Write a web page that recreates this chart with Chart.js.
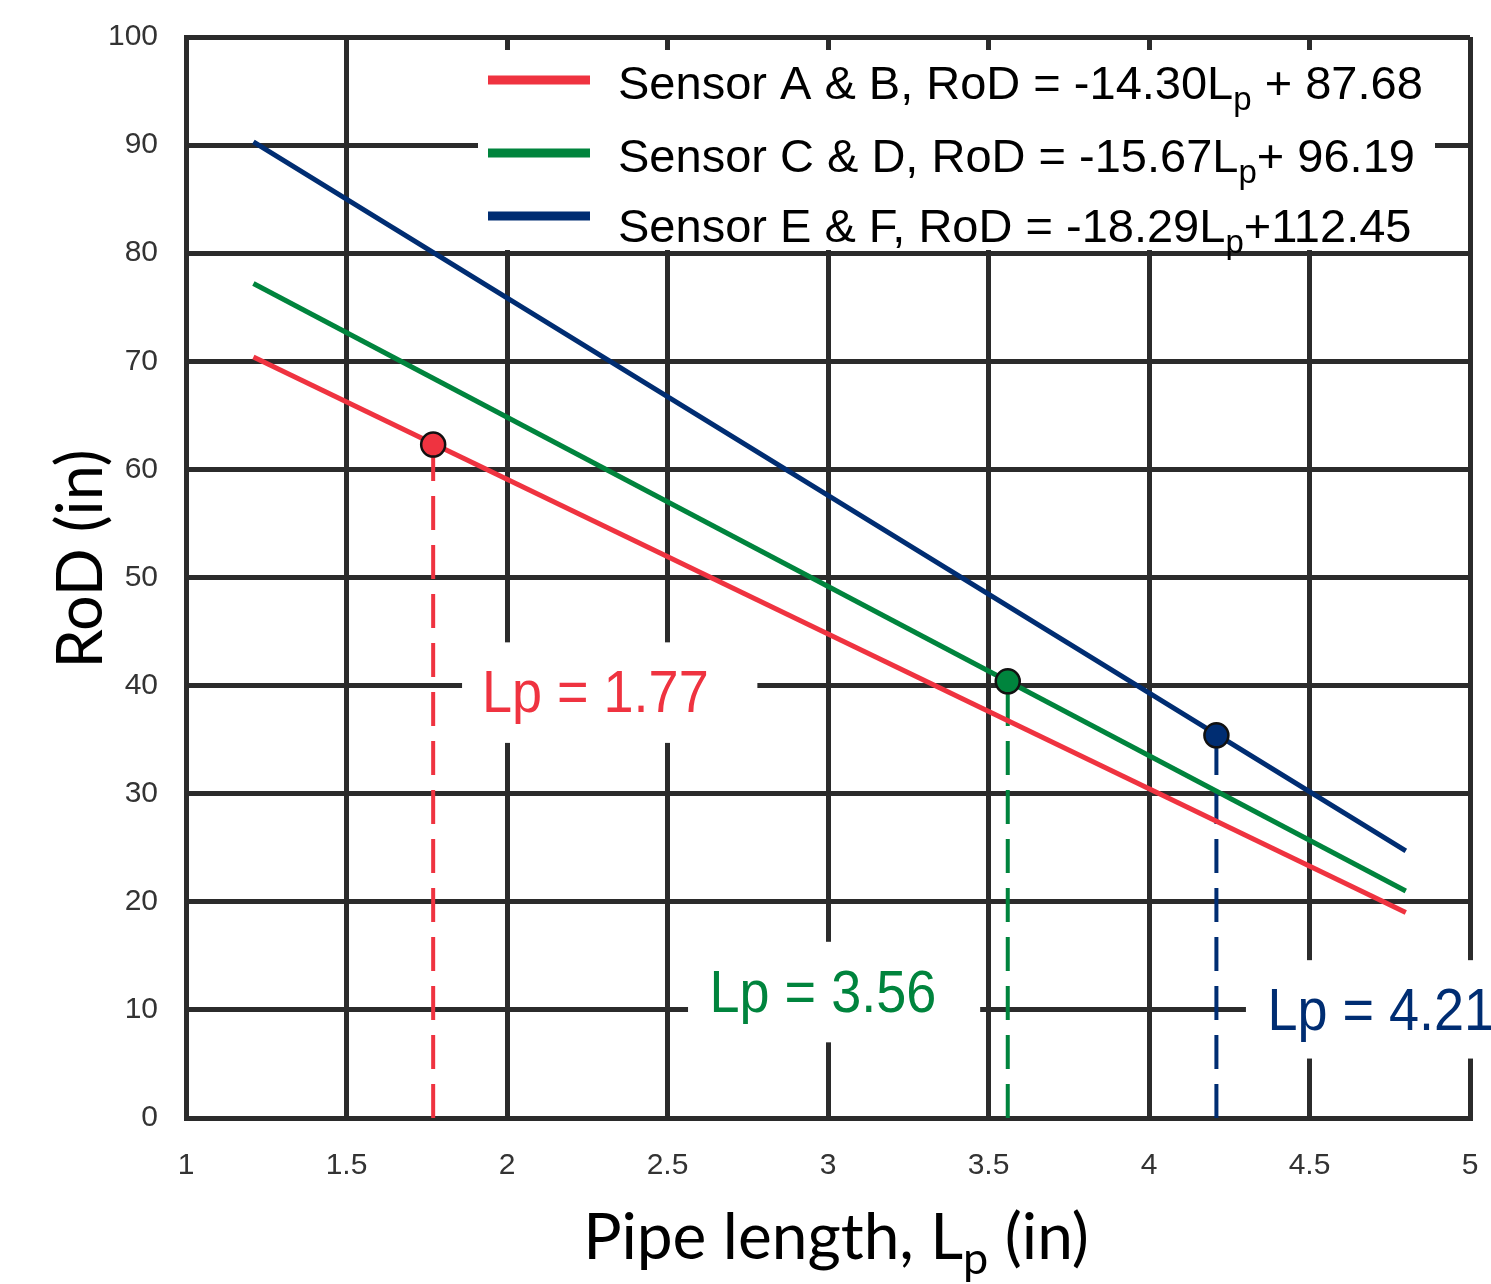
<!DOCTYPE html>
<html>
<head>
<meta charset="utf-8">
<script src="https://cdn.jsdelivr.net/npm/chart.js@4.4.0/dist/chart.umd.min.js"></script>
<style>
  html, body { margin: 0; padding: 0; background: #fff; }
  #wrap { width: 1491px; height: 1284px; }
</style>
</head>
<body>
<div id="wrap"><canvas id="rodChart"></canvas></div>
<script>
// fitted lines: end points
const lineX = [1.21, 4.8];
const sensorAB = [70.4, 19.0];
const sensorCD = [77.2, 21.0];
const sensorEF = [90.3, 24.7];

// marked pipe lengths and RoD at those points
const markLp = [1.77, 3.56, 4.21];
const markRoD = [62.3, 40.4, 35.4];

const xTicks = [1, 1.5, 2, 2.5, 3, 3.5, 4, 4.5, 5];
const xTickLabels = ['1', '1.5', '2', '2.5', '3', '3.5', '4', '4.5', '5'];
const yTicks = [0, 10, 20, 30, 40, 50, 60, 70, 80, 90, 100];

const seriesNames = ['Sensor A & B', 'Sensor C & D', 'Sensor E & F'];
const legendText = [
  ['Sensor A & B, RoD = -14.30L', 'p', ' + 87.68'],
  ['Sensor C & D, RoD = -15.67L', 'p', '+ 96.19'],
  ['Sensor E & F, RoD = -18.29L', 'p', '+112.45']
];
const markLabels = ['Lp = 1.77', 'Lp = 3.56', 'Lp = 4.21'];

const colors = ['#ef3340', '#00843d', '#002d72'];
const gridColor = '#2b2b2b';

// where the mark labels sit (value coords) and the white boxes behind them
const labelSpots = [
  { tx: 1.922, ty: 37.6, x0: 1.86, x1: 2.78, y0: 34.7, y1: 44.0 },
  { tx: 2.631, ty: 9.8, x0: 2.564, x1: 3.474, y0: 7.0, y1: 16.3 },
  { tx: 4.369, ty: 8.1, x0: 4.302, x1: 5.07, y0: 5.5, y1: 14.6 }
];

const lineSets = [sensorAB, sensorCD, sensorEF].map((vals, i) => ({
  label: seriesNames[i],
  data: lineX.map((x, j) => ({ x: x, y: vals[j] })),
  showLine: true,
  borderColor: colors[i],
  borderWidth: 5,
  pointRadius: 0,
  fill: false,
  tension: 0
}));

const dashSets = markLp.map((lp, i) => ({
  label: 'drop ' + i,
  data: [{ x: lp, y: 0 }, { x: lp, y: markRoD[i] }],
  showLine: true,
  borderColor: colors[i],
  borderWidth: 4,
  borderDash: [34, 15],
  pointRadius: 0,
  fill: false
}));

const pointSet = {
  label: 'marks',
  data: markLp.map((lp, i) => ({ x: lp, y: markRoD[i] })),
  showLine: false,
  pointRadius: 12,
  pointBackgroundColor: colors,
  pointBorderColor: '#111',
  pointBorderWidth: 2.5
};

function drawSub(ctx, parts, x, y, big, small, drop) {
  ctx.font = big;
  ctx.fillText(parts[0], x, y);
  let w = ctx.measureText(parts[0]).width;
  ctx.font = small;
  ctx.fillText(parts[1], x + w, y + drop);
  w += ctx.measureText(parts[1]).width;
  ctx.font = big;
  ctx.fillText(parts[2], x + w, y);
}

function subWidth(ctx, parts, big, small) {
  ctx.font = big;
  let w = ctx.measureText(parts[0]).width + ctx.measureText(parts[2]).width;
  ctx.font = small;
  return w + ctx.measureText(parts[1]).width;
}

const overlay = {
  id: 'overlay',
  beforeDatasetsDraw(chart) {
    const { ctx, chartArea: a, scales: { x, y } } = chart;
    ctx.save();
    ctx.fillStyle = '#fff';
    // legend backdrop
    ctx.fillRect(a.left + 292, a.top + 13, 957, 200);
    labelSpots.forEach(b => {
      const l = x.getPixelForValue(b.x0), r = x.getPixelForValue(b.x1);
      const t = y.getPixelForValue(b.y1), bt = y.getPixelForValue(b.y0);
      ctx.fillRect(l, t, r - l, bt - t);
    });
    ctx.restore();
  },
  afterDatasetsDraw(chart) {
    const { ctx, chartArea: a, scales: { x, y } } = chart;
    ctx.save();

    // legend
    const rowLine = [43, 116, 179];
    const rowBase = [62, 135, 205];
    legendText.forEach((parts, i) => {
      ctx.fillStyle = colors[i];
      ctx.fillRect(a.left + 302, a.top + rowLine[i] - 4.5, 102, 9);
      ctx.fillStyle = '#000';
      ctx.textBaseline = 'alphabetic';
      ctx.textAlign = 'left';
      drawSub(ctx, parts, a.left + 432, a.top + rowBase[i],
        '47px "Liberation Sans"', '33px "Liberation Sans"', 11);
    });

    // Lp labels, a little condensed like the original
    ctx.font = '60px "Liberation Sans"';
    markLabels.forEach((txt, i) => {
      const s = labelSpots[i];
      ctx.save();
      ctx.translate(x.getPixelForValue(s.tx), y.getPixelForValue(s.ty));
      ctx.scale(0.9, 1);
      ctx.fillStyle = colors[i];
      ctx.fillText(txt, 0, 0);
      ctx.restore();
    });

    // axis titles
    ctx.fillStyle = '#000';
    ctx.save();
    ctx.translate(82, 559);
    ctx.rotate(-Math.PI / 2);
    ctx.font = '63px Lato';
    ctx.textAlign = 'center';
    ctx.textBaseline = 'middle';
    ctx.fillText('RoD (in)', 0, 0);
    ctx.restore();

    const xt = ['Pipe length, L', 'p', ' (in)'];
    const big = '64px Lato', small = '45px Lato';
    const w = subWidth(ctx, xt, big, small);
    ctx.textAlign = 'left';
    ctx.textBaseline = 'alphabetic';
    drawSub(ctx, xt, 836 - w / 2, 1259, big, small, 15);

    ctx.restore();
  }
};

const ctx = document.getElementById('rodChart').getContext('2d');
const chart = new Chart(ctx, {
  type: 'scatter',
  data: {
    datasets: [pointSet].concat(lineSets, dashSets)
  },
  options: {
    responsive: true,
    maintainAspectRatio: false,
    animation: false,
    layout: { padding: { top: 37, right: 21, left: 0, bottom: 0 } },
    plugins: {
      legend: { display: false },
      tooltip: { enabled: false }
    },
    scales: {
      x: {
        type: 'linear',
        min: 1,
        max: 5,
        afterBuildTicks: s => { s.ticks = xTicks.map(v => ({ value: v })); },
        afterFit: s => {
          s.height = 166;
          s.paddingLeft = 0;
          s.paddingRight = 0;
        },
        grid: { color: gridColor, lineWidth: 5, drawTicks: false },
        border: { color: gridColor, width: 5 },
        ticks: {
          padding: 30,
          color: '#333',
          font: { family: 'Liberation Sans', size: 30 },
          callback: (v, i) => xTickLabels[i]
        }
      },
      y: {
        type: 'linear',
        min: 0,
        max: 100,
        afterBuildTicks: s => { s.ticks = yTicks.map(v => ({ value: v })); },
        afterFit: s => {
          s.width = 186;
          s.paddingTop = 0;
          s.paddingBottom = 0;
        },
        grid: { color: gridColor, lineWidth: 5, drawTicks: false },
        border: { color: gridColor, width: 5 },
        ticks: {
          padding: 28,
          color: '#333',
          font: { family: 'Liberation Sans', size: 30 }
        }
      }
    }
  },
  plugins: [overlay]
});
</script>
</body>
</html>
